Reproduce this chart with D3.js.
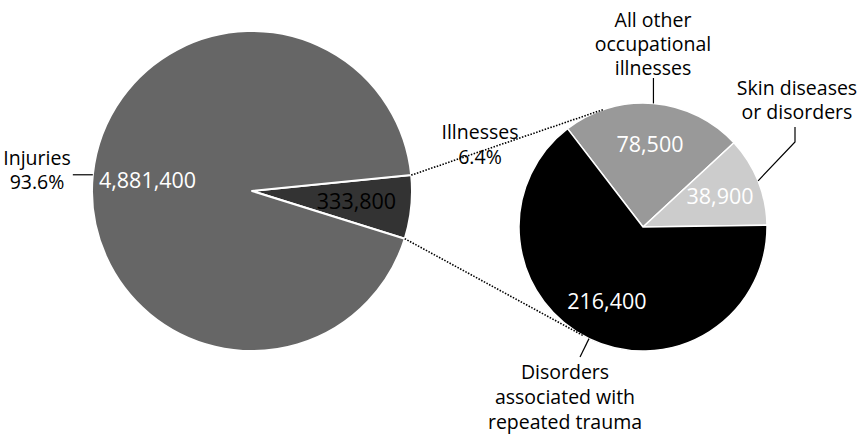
<!DOCTYPE html>
<html>
<head>
<meta charset="utf-8">
<script src="https://cdn.jsdelivr.net/npm/d3@7"></script>
<style>
  html, body { margin: 0; padding: 0; background: #fff; }
  svg { display: block; }
  text { font-family: "Open Sans", "Noto Sans", sans-serif; font-size: 19.5px; }
  text.val { font-size: 21.5px; }
</style>
</head>
<body>
<svg id="chart" width="864" height="435"></svg>
<script>
// Cases by type: injuries vs. illnesses
const mainCategories = ["Illnesses", "Injuries"];
const mainValues = [333800, 4881400];
const mainShares = ["6.4%", "93.6%"];
const mainColors = ["#333333", "#666666"];

// Breakdown of the illness cases
const illnessCategories = [
  ["All other", "occupational", "illnesses"],
  ["Skin diseases", "or disorders"],
  ["Disorders", "associated with", "repeated trauma"]
];
const illnessValues = [78500, 38900, 216400];
const illnessColors = ["#999999", "#cccccc", "#000000"];

const fmt = d3.format(",");
const deg = Math.PI / 180;
const svg = d3.select("#chart");

// ---- main pie ----
const main = { cx: 252, cy: 191, r: 160, start: 84.3 * deg, labelR: 105 };
const mainPie = d3.pie().sort(null)
  .startAngle(main.start).endAngle(main.start + 2 * Math.PI);
const mainArcs = mainPie(mainValues);
const mainArc = d3.arc().innerRadius(0).outerRadius(main.r);
const mainLabelArc = d3.arc().innerRadius(main.labelR).outerRadius(main.labelR);

const gMain = svg.append("g").attr("transform", `translate(${main.cx},${main.cy})`);
gMain.selectAll("path").data(mainArcs).join("path")
  .attr("d", mainArc)
  .attr("fill", (d, i) => mainColors[i])
  .attr("stroke", "#fff").attr("stroke-width", 2).attr("stroke-linejoin", "round");
gMain.selectAll("text.val").data(mainArcs).join("text")
  .attr("class", "val")
  .attr("transform", d => `translate(${mainLabelArc.centroid(d)})`)
  .attr("text-anchor", "middle").attr("dy", "0.35em")
  .attr("fill", (d, i) => i === 0 ? "#000" : "#fff")
  .text((d, i) => fmt(mainValues[i]));

// ---- illness breakdown pie ----
const sub = { cx: 643, cy: 227, r: 124, start: -37.5 * deg, labelR: 83 };
const subPie = d3.pie().sort(null)
  .startAngle(sub.start).endAngle(sub.start + 2 * Math.PI);
const subArcs = subPie(illnessValues);
const subArc = d3.arc().innerRadius(0).outerRadius(sub.r);
const subLabelArc = d3.arc().innerRadius(sub.labelR).outerRadius(sub.labelR);

const gSub = svg.append("g").attr("transform", `translate(${sub.cx},${sub.cy})`);
gSub.selectAll("path").data(subArcs).join("path")
  .attr("d", subArc)
  .attr("fill", (d, i) => illnessColors[i])
  .attr("stroke", "#fff").attr("stroke-width", 1.5).attr("stroke-linejoin", "round");
gSub.selectAll("text.val").data(subArcs).join("text")
  .attr("class", "val")
  .attr("transform", d => `translate(${subLabelArc.centroid(d)})`)
  .attr("text-anchor", "middle").attr("dy", "0.35em")
  .attr("fill", "#fff")
  .text((d, i) => fmt(illnessValues[i]));

// point on a pie's rim at a d3 angle (clockwise from 12 o'clock)
function rim(p, a, r = p.r) {
  return [p.cx + r * Math.sin(a), p.cy - r * Math.cos(a)];
}
const midAngle = d => (d.startAngle + d.endAngle) / 2;

// ---- category labels ----
function multiline(x, y, lines, lh, anchor = "middle") {
  const t = svg.append("text").attr("x", x).attr("y", y).attr("text-anchor", anchor).attr("fill", "#000");
  lines.forEach((s, i) => t.append("tspan").attr("x", x).attr("dy", i ? lh : 0).text(s));
}
const leader = pts => svg.append("path")
  .attr("d", d3.line()(pts))
  .attr("fill", "none").attr("stroke", "#000").attr("stroke-width", 1.2);

// Injuries
multiline(37, 165, [mainCategories[1], mainShares[1]], 23.5);
{
  const p = rim(main, midAngle(mainArcs[1]));
  leader([p, [p[0] - 20, p[1]]]);
}
// Illnesses
multiline(480, 139, [mainCategories[0], mainShares[0]], 25);

// All other occupational illnesses
multiline(653, 26.5, illnessCategories[0], 24);
{
  const p = rim(sub, midAngle(subArcs[0]));
  leader([p, [p[0], 78]]);
}
// Skin diseases or disorders
multiline(797, 95, illnessCategories[1], 24);
{
  const p = rim(sub, midAngle(subArcs[1]));
  leader([p, [795, 142], [795, 127]]);
}
// Disorders associated with repeated trauma
multiline(565, 379, illnessCategories[2], 25);
{
  const p = rim(sub, midAngle(subArcs[2]));
  leader([p, [p[0] - 9, 357]]);
}

// ---- dotted connectors: tangents from the illness wedge to the breakdown pie ----
function tangentPoint(from, circle, side) {
  const dx = circle.cx - from[0], dy = circle.cy - from[1];
  const d = Math.hypot(dx, dy);
  const base = Math.atan2(dy, dx);
  const off = Math.asin(circle.r / d);
  const len = Math.sqrt(d * d - circle.r * circle.r);
  const a = base + side * off;
  return [from[0] + len * Math.cos(a), from[1] + len * Math.sin(a)];
}
const ill = mainArcs[0];
const upperStart = rim(main, ill.startAngle);
const lowerStart = rim(main, ill.endAngle);
[[upperStart, tangentPoint(upperStart, sub, -1)],
 [lowerStart, tangentPoint(lowerStart, sub, 1)]].forEach(seg => {
  svg.append("path")
    .attr("d", d3.line()(seg))
    .attr("fill", "none").attr("stroke", "#000")
    .attr("stroke-width", 1.6).attr("stroke-dasharray", "1.5 1.5");
});
</script>
</body>
</html>
